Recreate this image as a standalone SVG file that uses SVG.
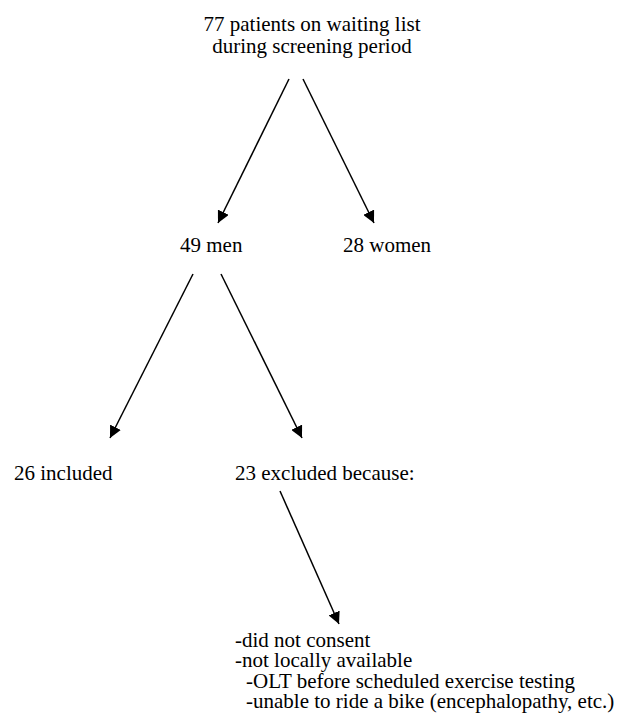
<svg xmlns="http://www.w3.org/2000/svg" width="624" height="718" viewBox="0 0 624 718">
  <style>
    text { font-family: "Liberation Serif", "Times New Roman", serif; font-size: 21px; fill: #000; }
    .conn { stroke: #000; stroke-width: 1.5; fill: none; marker-end: url(#arrow); }
  </style>
  <defs>
    <marker id="arrow" markerUnits="userSpaceOnUse" markerWidth="13" markerHeight="12" refX="12" refY="6" orient="auto">
      <path d="M0,0 L12,6 L0,12 z" fill="#000"/>
    </marker>
  </defs>
  <rect width="624" height="718" fill="#fff"/>
  <g id="connectors">
    <line class="conn" x1="289" y1="79" x2="218" y2="223"/>
    <line class="conn" x1="303" y1="79" x2="374" y2="223"/>
    <line class="conn" x1="193" y1="274" x2="110" y2="438"/>
    <line class="conn" x1="221" y1="274" x2="302" y2="438"/>
    <line class="conn" x1="280" y1="491" x2="339" y2="624"/>
  </g>
  <g id="node-waiting-list">
    <text x="312" y="31" text-anchor="middle">77 patients on waiting list</text>
    <text x="312" y="53" text-anchor="middle">during screening period</text>
  </g>
  <g id="node-men">
    <text x="180" y="252">49 men</text>
  </g>
  <g id="node-women">
    <text x="343" y="252">28 women</text>
  </g>
  <g id="node-included">
    <text x="14" y="480">26 included</text>
  </g>
  <g id="node-excluded">
    <text x="235" y="480">23 excluded because:</text>
  </g>
  <g id="node-reasons">
    <text x="235" y="647">-did not consent</text>
    <text x="235" y="667">-not locally available</text>
    <text x="246" y="688">-OLT before scheduled exercise testing</text>
    <text x="246" y="708">-unable to ride a bike (encephalopathy, etc.)</text>
  </g>
</svg>
